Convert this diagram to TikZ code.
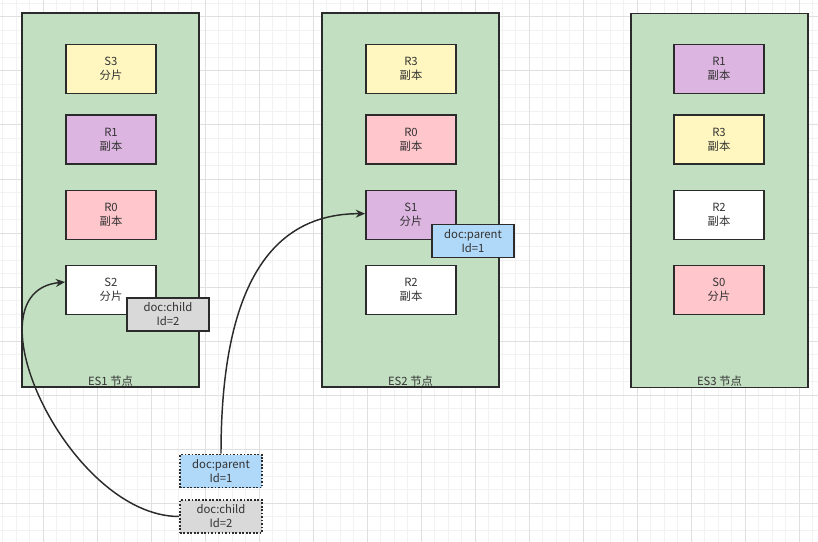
\documentclass[tikz,border=0pt]{standalone}
\usepackage{fontspec}
\setmainfont{Noto Sans CJK SC}
\usetikzlibrary{arrows.meta}
\definecolor{cgreen}{HTML}{C2E0C1}
\definecolor{cyellow}{HTML}{FFF7BF}
\definecolor{cpurple}{HTML}{DDB5E1}
\definecolor{cpink}{HTML}{FFC6CC}
\definecolor{cgray}{HTML}{D9D9D9}
\definecolor{cblue}{HTML}{B0D8F8}
\definecolor{cline}{HTML}{2B2B2B}
\definecolor{ctext}{HTML}{333333}
\definecolor{gminor}{HTML}{F2F2F2}
\definecolor{gmajor}{HTML}{E0E0E0}
\tikzset{
  container/.style={draw=cline, fill=cgreen, line width=1.4pt, minimum width=132.75pt, minimum height=280.5pt, inner sep=0pt},
  shard/.style={draw=cline, line width=1.4pt, minimum width=67.5pt, minimum height=36.75pt, inner sep=0pt, align=center, text=ctext, font=\fontsize{8.5}{10.5}\selectfont},
  tag/.style={draw=cline, line width=1.4pt, minimum width=61.5pt, minimum height=24.75pt, inner sep=0pt, align=center, text=ctext, font=\fontsize{8.5}{10.5}\selectfont},
  dottag/.style={tag, line width=1.3pt, dash pattern=on 1.3pt off 1.3pt},
  boxlabel/.style={text=ctext, font=\fontsize{8.5}{10.5}\selectfont, inner sep=0pt},
  arr/.style={draw=cline, line width=1.1pt, -{Stealth[length=7pt,width=6pt]}},
}
\begin{document}
\begin{tikzpicture}[x=0.75pt,y=-0.75pt]
\useasboundingbox (0,0) rectangle (818,542);
\fill[white] (0,0) rectangle (818,542);
% grid
\foreach \i in {0,...,60} {
  \draw[gminor, line width=0.75pt] ({2.5+13.5*\i},0) -- ({2.5+13.5*\i},542);
}
\foreach \i in {0,...,40} {
  \draw[gminor, line width=0.75pt] (0,{3.5+13.5*\i}) -- (818,{3.5+13.5*\i});
}
\foreach \i in {-1,...,15} {
  \draw[gmajor, line width=0.75pt] ({43+54*\i},0) -- ({43+54*\i},542);
}
\foreach \i in {0,...,10} {
  \draw[gmajor, line width=0.75pt] (0,{17+54*\i}) -- (818,{17+54*\i});
}
% containers
\node[container] (es1) at (110.5,200) {};
\node[container] (es2) at (410.5,200) {};
\node[container] (es3) at (719.5,200.5) {};
\node[boxlabel] (es1l) at (110.5,381) {ES1 节点};
\node[boxlabel] (es2l) at (410.5,381) {ES2 节点};
\node[boxlabel] (es3l) at (719.5,381) {ES3 节点};
% ES1
\node[shard, fill=cyellow] (s3) at (111,69) {S3\\分片};
\node[shard, fill=cpurple] (r1a) at (111,139.5) {R1\\副本};
\node[shard, fill=cpink] (r0a) at (111,215) {R0\\副本};
\node[shard, fill=white] (s2) at (111,290) {S2\\分片};
\node[tag, fill=cgray] (c1) at (168,314.5) {doc:child\\Id=2};
% ES2
\node[shard, fill=cyellow] (r3a) at (411,69) {R3\\副本};
\node[shard, fill=cpink] (r0b) at (411,139.5) {R0\\副本};
\node[shard, fill=cpurple] (s1) at (411,215) {S1\\分片};
\node[shard, fill=white] (r2a) at (411,290) {R2\\副本};
\node[tag, fill=cblue] (p1) at (473,241) {doc:parent\\Id=1};
% ES3
\node[shard, fill=cpurple] (r1b) at (719,69) {R1\\副本};
\node[shard, fill=cyellow] (r3b) at (719,139.5) {R3\\副本};
\node[shard, fill=white] (r2b) at (719,215) {R2\\副本};
\node[shard, fill=cpink] (s0) at (719,290) {S0\\分片};
% bottom docs
\node[dottag, fill=cblue] (p2) at (221,471) {doc:parent\\Id=1};
\node[dottag, fill=cgray] (c2) at (221,516.5) {doc:child\\Id=2};
% connectors
\draw[arr] (p2.north) .. controls +(0,-195) and +(-76,0) .. ([yshift=1pt]s1.west);
\draw[arr] (c2.west) .. controls +(-110,0) and +(-101,10) .. ([yshift=6pt]s2.west);
\end{tikzpicture}
\end{document}
